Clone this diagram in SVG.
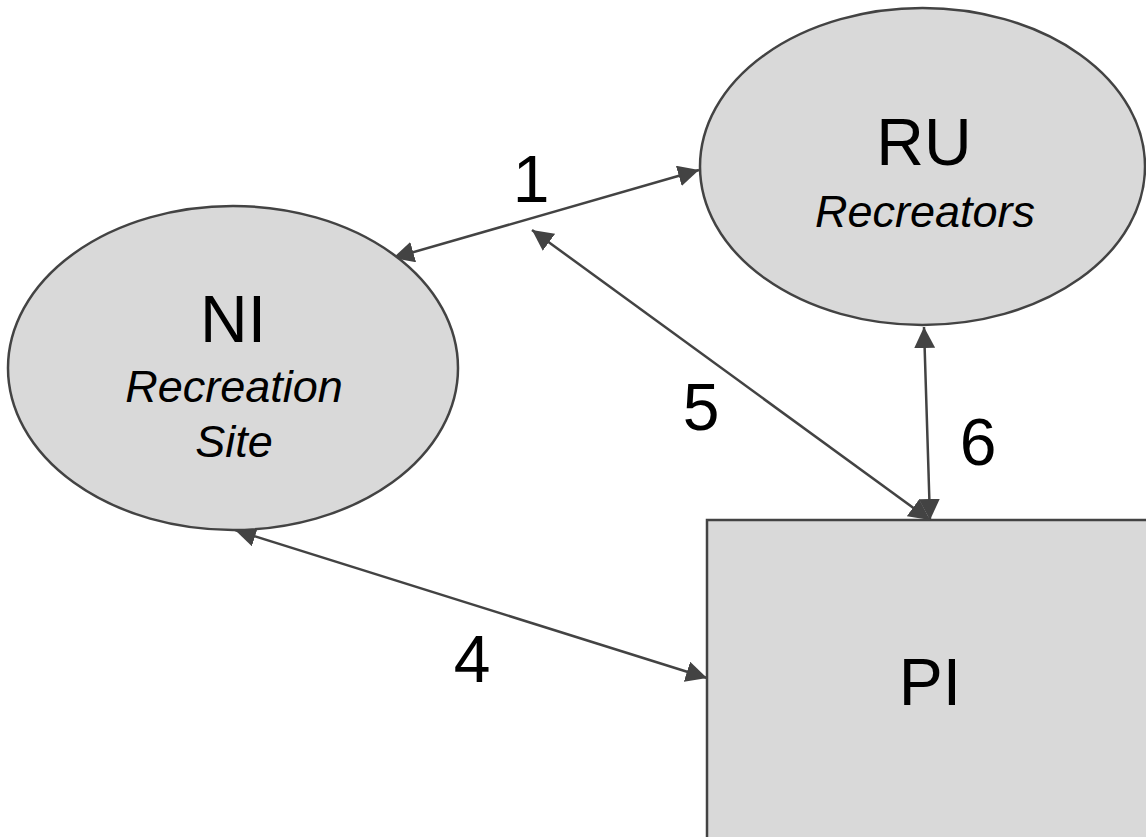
<svg xmlns="http://www.w3.org/2000/svg" width="1146" height="837" viewBox="0 0 1146 837">
  <style>
    .shape { fill: #d9d9d9; stroke: #434343; stroke-width: 2.5; }
    .link { fill: none; stroke: #434343; stroke-width: 2.5; marker-start: url(#head); marker-end: url(#head); }
    .title { font-family: "Liberation Sans", Arial, sans-serif; font-size: 66px; fill: #000; text-anchor: middle; }
    .sub { font-family: "Liberation Sans", Arial, sans-serif; font-size: 45px; font-style: italic; fill: #000; text-anchor: middle; }
    .num { font-family: "Liberation Sans", Arial, sans-serif; font-size: 66px; fill: #000; text-anchor: middle; }
  </style>
  <defs>
    <marker id="head" viewBox="0 0 21 21" refX="21" refY="10.5" markerWidth="21" markerHeight="21" markerUnits="userSpaceOnUse" orient="auto-start-reverse">
      <path d="M0,0 L21,10.5 L0,21 Z" fill="#434343"/>
    </marker>
  </defs>

  <rect width="1146" height="837" fill="#ffffff"/>

  <!-- connectors -->
  <g id="connectors">
    <line class="link" x1="393" y1="258" x2="699" y2="170"/>
    <line class="link" x1="532" y1="230" x2="930" y2="520"/>
    <line class="link" x1="924" y1="327" x2="930" y2="520"/>
    <line class="link" x1="235" y1="530" x2="707" y2="678"/>
    <text class="num" x="531" y="202">1</text>
    <text class="num" x="701" y="430">5</text>
    <text class="num" x="978" y="465">6</text>
    <text class="num" x="472" y="682">4</text>
  </g>

  <!-- recreators -->
  <g id="node-ru">
    <ellipse class="shape" cx="922.5" cy="166.5" rx="222.5" ry="158.5"/>
    <text class="title" x="924" y="165">RU</text>
    <text class="sub" x="925" y="227">Recreators</text>
  </g>

  <!-- recreation site -->
  <g id="node-ni">
    <ellipse class="shape" cx="233" cy="368" rx="225" ry="162"/>
    <text class="title" x="233" y="342">NI</text>
    <text class="sub" x="234" y="402">Recreation</text>
    <text class="sub" x="234" y="457">Site</text>
  </g>

  <!-- PI block -->
  <g id="node-pi">
    <rect class="shape" x="707" y="520" width="446" height="340"/>
    <text class="title" x="930" y="705">PI</text>
  </g>
</svg>
